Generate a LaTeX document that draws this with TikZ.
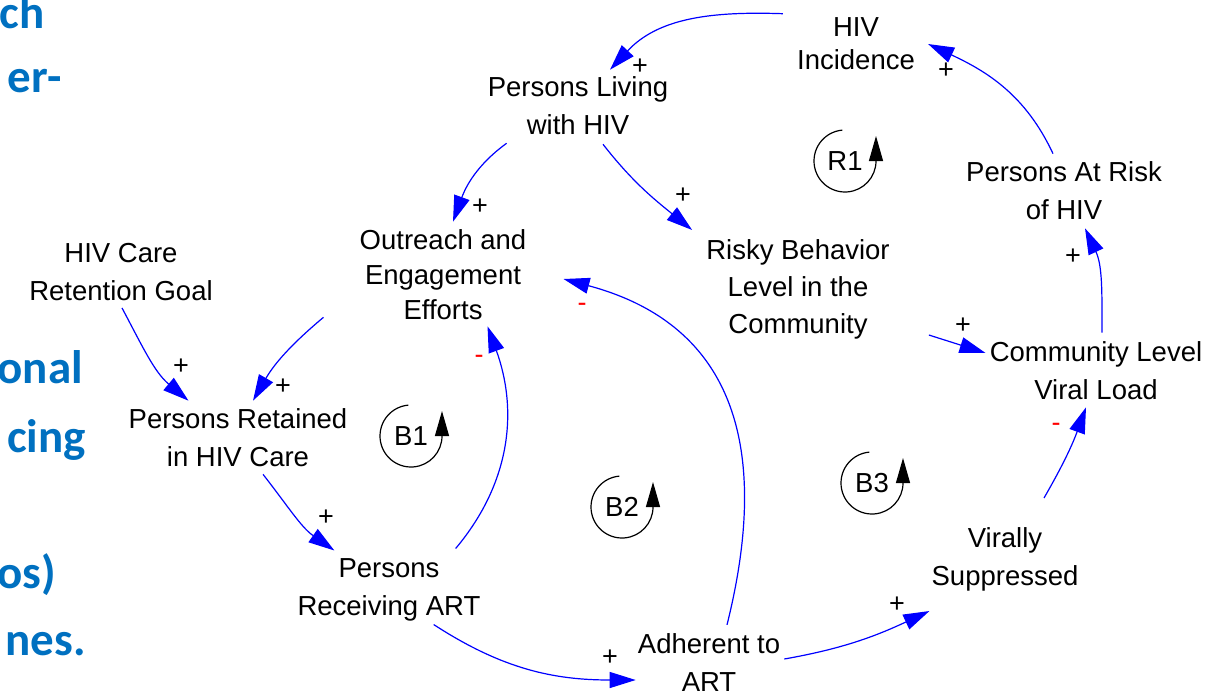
\documentclass[tikz,border=0pt]{standalone}
\usepackage{fontspec}
\setmainfont{Liberation Sans}
\newfontfamily\slidefont{Carlito}
\usepackage{xcolor}
\usetikzlibrary{arrows.meta}
\definecolor{slideblue}{RGB}{0,112,192}

\begin{document}
\begin{tikzpicture}[x=1pt,y=1pt,
    var/.style={align=center,inner sep=0pt,font=\fontsize{27.5}{38}\selectfont},
    link/.style={blue,line width=1.2pt,-{Triangle[length=26pt,width=16pt]}},
    possign/.style={inner sep=0pt,font=\fontsize{27}{30}\selectfont},
    negsign/.style={possign,text=red},
    loopmark/.style={line width=1.2pt,-{Triangle[length=25pt,width=14pt]}},
    frag/.style={anchor=base east,inner sep=0pt,text=slideblue,font=\fontsize{47}{50}\slidefont\bfseries}]
    \useasboundingbox (0,0) rectangle (1209,-694);

    \node[frag] (t1) at (45,-28) {ch};
    \node[frag] (t2) at (62,-92) {er-};
    \node[frag] (t3) at (83,-383) {onal};
    \node[frag] (t4) at (86,-452) {cing};
    \node[frag] (t5) at (56,-588) {os)};
    \node[frag] (t6) at (86,-655) {nes.};

    \node[var,font=\fontsize{27.5}{33}\selectfont] (inc) at (856,-44) {HIV\\Incidence};
    \node[var] (liv) at (578,-106) {Persons Living\\with HIV};
    \node[var,font=\fontsize{27.5}{35}\selectfont] (out) at (443,-275) {Outreach and\\Engagement\\Efforts};
    \node[var,font=\fontsize{27.5}{37}\selectfont] (risky) at (798,-289) {Risky Behavior\\Level in the\\Community};
    \node[var] (atrisk) at (1064,-191) {Persons At Risk\\of HIV};
    \node[var] (clvl) at (1096,-371) {Community Level\\Viral Load};
    \node[var] (goal) at (121,-272) {HIV Care\\Retention Goal};
    \node[var] (ret) at (238,-438) {Persons Retained\\in HIV Care};
    \node[var] (rec) at (389,-590) {Persons\\Receiving ART};
    \node[var] (adh) at (709,-663) {Adherent to\\ART};
    \node[var] (vir) at (1005,-559) {Virally\\Suppressed};

    \node[var] (r1) at (845,-161) {R1};
    \node[var] (b1) at (411,-436) {B1};
    \node[var] (b2) at (622,-507) {B2};
    \node[var] (b3) at (872,-483) {B3};
    \foreach \l in {r1,b1,b2,b3}
        \draw[loopmark] (\l) ++(95:31) arc[start angle=95,end angle=360,radius=31] -- ++(0,25);

    \draw[link] ([shift={(-14,4)}]inc.north west) to[out=178,in=47] ([shift={(32,7)}]liv.north);
    \draw[link] ([shift={(19,-8)}]liv.south west) to[out=216,in=70] ([shift={(10,8)}]out.north);
    \draw[link] ([shift={(25,-9)}]liv.south) to[out=-52,in=141] ([shift={(-14,9)}]risky.north west);
    \draw[link] ([shift={(-36,3)}]out.south west) to[out=220,in=60] ([shift={(15,8)}]ret.north);
    \draw[link] ([shift={(1,-7)}]goal.south) to[out=-62,in=140] ([shift={(60,8)}]ret.north west);
    \draw[link] ([shift={(25,-7)}]ret.south) to[out=-52,in=145] ([shift={(37,8)}]rec.north west);
    \draw[link] ([shift={(-25,10)}]rec.north east) to[out=50,in=-70] ([shift={(-39,-6)}]out.south east);
    \draw[link] ([shift={(-47,-3)}]rec.south east) to[out=-33,in=180] ([shift={(-2,-17)}]adh.west);
    \draw[link] ([shift={(18,9)}]adh.north) to[out=76,in=-15,looseness=1.2] ([shift={(37,-4)}]out.east);
    \draw[link] ([shift={(4,4)}]adh.east) to[out=10,in=205] ([shift={(-2,-20)}]vir.south west);
    \draw[link] ([shift={(39,29)}]vir.north) to[out=60,in=-110] ([shift={(-10,-7)}]clvl.south);
    \draw[link] ([shift={(39,4)}]risky.south east) -- ([shift={(-4,18)}]clvl.west);
    \draw[link] ([shift={(6,9)}]clvl.north) to[out=90,in=-65] ([shift={(21,-8)}]atrisk.south);
    \draw[link] ([shift={(-11,8)}]atrisk.north) to[out=115,in=-25] ([shift={(13,0)}]inc.east);

    \node[possign] (s1) at (640,-67) {+};
    \node[possign] (s2) at (480,-207) {+};
    \node[possign] (s3) at (683,-196) {+};
    \node[possign] (s4) at (283,-387) {+};
    \node[possign] (s5) at (181,-367) {+};
    \node[possign] (s6) at (326,-518) {+};
    \node[negsign] (s7) at (479,-359) {-};
    \node[possign] (s8) at (610,-658) {+};
    \node[negsign] (s9) at (582,-307) {-};
    \node[possign] (s10) at (897,-605) {+};
    \node[negsign] (s11) at (1056,-427) {-};
    \node[possign] (s12) at (963,-326) {+};
    \node[possign] (s13) at (1073,-257) {+};
    \node[possign] (s14) at (946,-71) {+};
\end{tikzpicture}
\end{document}
